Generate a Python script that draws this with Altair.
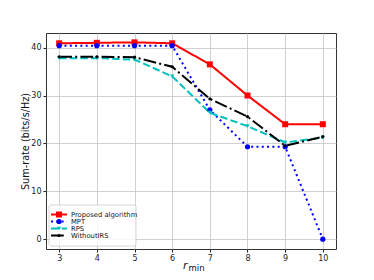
import altair as alt
import pandas as pd

r_min = [3, 4, 5, 6, 7, 8, 9, 10]
series_names = ["Proposed algorithm", "MPT", "RPS", "WithoutIRS"]
proposed = [40.9, 41.0, 41.1, 40.9, 36.5, 30.0, 24.0, 24.0]
mpt = [40.4, 40.4, 40.4, 40.4, 27.0, 19.3, 19.3, 0.0]
rps = [37.8, 37.8, 37.5, 34.0, 26.4, 23.6, 20.2, 21.2]
without_irs = [38.1, 38.1, 38.0, 36.0, 29.3, 25.6, 19.5, 21.4]

colors = ["#ff0000", "#0000ff", "#00bfbf", "#000000"]
dashes = [[1, 0], [2, 3.3], [7.4, 3.2], [12.8, 3.2, 2, 3.2]]
shapes = ["square", "circle", "triangle-down", "circle"]

rows = []
for name, vals in zip(series_names, [proposed, mpt, rps, without_irs]):
    for x, v in zip(r_min, vals):
        rows.append({"r": x, "value": v, "series": name})
df = pd.DataFrame(rows)
leg = pd.DataFrame({"series": series_names})

color_scale = alt.Scale(domain=series_names, range=colors)
dash_scale = alt.Scale(domain=series_names, range=dashes)
shape_scale = alt.Scale(domain=series_names, range=shapes)
size_scale = alt.Scale(domain=series_names, range=[36, 10, 36, 30])

xenc = alt.X("r:Q", scale=alt.Scale(domain=[2.65, 10.35], nice=False, zero=False),
             axis=alt.Axis(values=r_min, title=None, grid=True))
yenc = alt.Y("value:Q", scale=alt.Scale(domain=[-2.05, 43.05], nice=False, zero=False),
             axis=alt.Axis(values=[0, 10, 20, 30, 40], title="Sum-rate (bits/s/Hz)",
                           titleFontSize=9.7, titleFontWeight="normal", titleX=-16, titleY=108,
                           grid=True))

base = alt.Chart(df)
lines = base.mark_line(strokeWidth=2).encode(
    x=xenc, y=yenc,
    color=alt.Color("series:N", scale=color_scale, legend=None),
    strokeDash=alt.StrokeDash("series:N", scale=dash_scale, legend=None),
    detail="series:N",
)
points = base.mark_point(filled=True, opacity=1).encode(
    x=xenc, y=yenc,
    color=alt.Color("series:N", scale=color_scale, legend=None),
    shape=alt.Shape("series:N", scale=shape_scale, legend=None),
    size=alt.Size("series:N", scale=size_scale, legend=None),
)
main = alt.layer(lines, points)

ly = alt.Y("series:N", scale=alt.Scale(domain=series_names, range=[178, 206]), axis=None)
lbase = alt.Chart(leg)
box = lbase.mark_rect(fill="white", fillOpacity=0.8, stroke="#cccccc", strokeWidth=0.8,
                      cornerRadius=2).encode(
    x=alt.value(3), x2=alt.value(90), y=alt.value(172), y2=alt.value(213)).transform_filter(
    alt.datum.series == series_names[0])
lrule = lbase.mark_rule(strokeWidth=2).encode(
    x=alt.value(5), x2=alt.value(21), y=ly,
    color=alt.Color("series:N", scale=color_scale, legend=None),
    strokeDash=alt.StrokeDash("series:N", scale=dash_scale, legend=None),
)
lpts = lbase.mark_point(filled=True, opacity=1).encode(
    x=alt.value(13), y=ly,
    color=alt.Color("series:N", scale=color_scale, legend=None),
    shape=alt.Shape("series:N", scale=shape_scale, legend=None),
    size=alt.Size("series:N", scale=size_scale, legend=None),
)
ltext = lbase.mark_text(align="left", baseline="middle", fontSize=6.8, color="#111").encode(
    x=alt.value(25), y=ly, text="series:N")
legend = alt.layer(box, lrule, lpts, ltext)

xt1 = alt.Chart(leg).mark_text(align="left", baseline="alphabetic", fontSize=11,
                               fontStyle="italic", color="#111").encode(
    x=alt.value(137), y=alt.value(236), text=alt.value("r")).transform_filter(
    alt.datum.series == series_names[0])
xt2 = alt.Chart(leg).mark_text(align="left", baseline="alphabetic", fontSize=8.5,
                               color="#111").encode(
    x=alt.value(142.5), y=alt.value(238), text=alt.value("min")).transform_filter(
    alt.datum.series == series_names[0])

chart = alt.layer(main, legend, xt1, xt2).resolve_scale(y="independent").properties(
    width=290, height=216,
    autosize=alt.AutoSizeParams(type="none"),
    padding={"left": 38, "top": 25, "right": 30, "bottom": 23},
).configure(font="DejaVu Sans").configure_view(
    stroke="#333333", strokeWidth=1
).configure_axis(
    gridColor="#c4c4c4", gridWidth=0.8, domain=False, tickColor="#222", tickSize=3,
    labelFontSize=8, labelColor="#222", labelPadding=2, titleColor="#111"
)

chart.save("out.html", embed_options={"renderer": "svg", "actions": False})
